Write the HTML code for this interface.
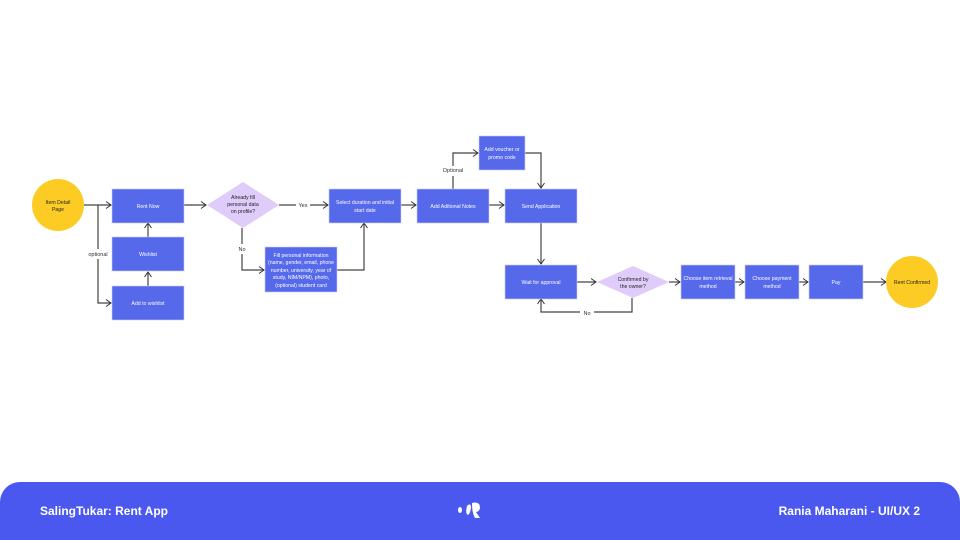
<!DOCTYPE html>
<html><head><meta charset="utf-8"><style>
html,body{margin:0;padding:0;background:#fff;width:960px;height:540px;overflow:hidden;font-family:"Liberation Sans",sans-serif}
svg{position:absolute;left:0;top:0}
.footer{position:absolute;left:0;top:482px;width:960px;height:58px;background:#4b58f0;border-radius:20px 20px 0 0}
.footer span{position:absolute;top:22px;color:#fff;font-weight:bold;font-size:12px}
</style></head><body>
<svg width="960" height="540" viewBox="0 0 960 540" font-family="Liberation Sans, sans-serif">
<defs><marker id="a" markerWidth="8" markerHeight="8" refX="6" refY="4" orient="auto" markerUnits="userSpaceOnUse"><path d="M1,0.5 L6,4 L1,7.5" fill="none" stroke="#333" stroke-width="1"/></marker></defs>
<g fill="none" stroke="#444" stroke-width="1.2" marker-end="url(#a)">
<path d="M84,205 H111"/>
<path d="M98,205 V303 H111"/>
<path d="M148,237 V223"/>
<path d="M148,286 V272"/>
<path d="M184,205 H206"/>
<path d="M279,205 H328"/>
<path d="M242,228 V270 H264"/>
<path d="M337,270 H364 V223"/>
<path d="M401,205 H416"/>
<path d="M453,189 V153 H478"/>
<path d="M525,153 H541 V188"/>
<path d="M489,205 H504"/>
<path d="M541,222 V264"/>
<path d="M577,282 H596"/>
<path d="M669,282 H680"/>
<path d="M735,282 H744"/>
<path d="M799,282 H808"/>
<path d="M863,282 H886"/>
<path d="M632,298 V312 H541 V299"/>
</g>
<g fill="#fff" font-size="5.5" text-anchor="middle">
<rect x="90" y="249" width="18" height="10"/><text x="98" y="256" fill="#333">optional</text>
<rect x="296" y="201" width="14" height="9"/><text x="303" y="207" fill="#333">Yes</text>
<rect x="236" y="244" width="12" height="10"/><text x="242" y="251" fill="#333">No</text>
<rect x="442" y="166" width="22" height="10"/><text x="453" y="172" fill="#333">Optional</text>
<rect x="580" y="308" width="14" height="9"/><text x="587" y="315" fill="#333">No</text>
</g>
<circle cx="58" cy="205" r="26" fill="#fccc25"/>
<circle cx="912" cy="282" r="26" fill="#fccc25"/>
<g fill="#5569ea" stroke="#c7cdfa" stroke-width="0.6">
<rect x="112" y="189" width="72" height="34"/>
<rect x="112" y="237" width="72" height="34"/>
<rect x="112" y="286" width="72" height="34"/>
<rect x="329" y="189" width="72" height="34"/>
<rect x="265" y="247" width="72" height="45"/>
<rect x="417" y="189" width="72" height="34"/>
<rect x="479" y="136" width="46" height="34"/>
<rect x="505" y="189" width="72" height="34"/>
<rect x="505" y="265" width="72" height="34"/>
<rect x="681" y="265" width="54" height="34"/>
<rect x="745" y="265" width="54" height="34"/>
<rect x="809" y="265" width="54" height="34"/>
</g>
<polygon points="243,182 279,205 243,228 207,205" fill="#e0ccfa"/>
<polygon points="633,266 669,282 633,298 597,282" fill="#e0ccfa"/>
<g font-size="5.2" text-anchor="middle" fill="#222">
<text x="58" y="204">Item Detail</text><text x="58" y="211">Page</text>
<text x="912" y="284">Rent Confirmed</text>
<text x="243" y="199">Already fill</text><text x="243" y="206">personal data</text><text x="243" y="213">on profile?</text>
<text x="633" y="281">Confirmed by</text><text x="633" y="288">the owner?</text>
</g>
<g font-size="5.2" text-anchor="middle" fill="#fff">
<text x="148" y="208">Rent Now</text>
<text x="148" y="256">Wishlist</text>
<text x="148" y="305">Add to wishlist</text>
<text x="365" y="204">Select duration and initial</text><text x="365" y="212">start date</text>
<text x="301" y="257">Fill personal information</text><text x="301" y="264">(name, gender, email, phone</text><text x="301" y="272">number, university, year of</text><text x="301" y="279">study, NIM/NPM), photo,</text><text x="301" y="287">(optional) student card</text>
<text x="453" y="208">Add Aditional Notes</text>
<text x="502" y="151">Add voucher or</text><text x="502" y="159">promo code</text>
<text x="541" y="208">Send Application</text>
<text x="541" y="284">Wait for approval</text>
<text x="708" y="280">Choose item retrieval</text><text x="708" y="288">method</text>
<text x="772" y="280">Choose payment</text><text x="772" y="288">method</text>
<text x="836" y="284">Pay</text>
</g>
</svg>
<div class="footer">
<span style="left:40px">SalingTukar: Rent App</span>
<span style="right:40px">Rania Maharani - UI/UX 2</span>
<svg width="30" height="30" style="left:455px;top:14px" viewBox="0 0 30 30"><ellipse cx="5" cy="14" rx="2" ry="3" fill="#fff"/><path d="M12,10 Q16,6 16,12 Q15,18 13,19 Q10,18 12,10Z" fill="#fff"/><path d="M17,7 Q25,5 25,12 Q24,16 21,16 L25,22 L20,22 Q17,17 17,7Z" fill="#fff"/></svg>
</div>
</body></html>
